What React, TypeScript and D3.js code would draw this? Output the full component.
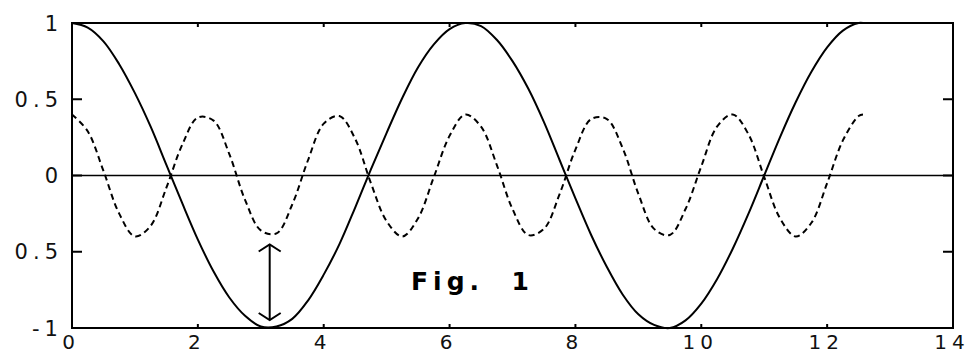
import React, { useRef, useEffect } from "react";
import * as d3 from "d3";

// sample positions along x
const xValues = [
  0, 0.25, 0.5, 0.75, 1, 1.25, 1.5, 1.75, 2, 2.25, 2.5, 2.75, 3, 3.25, 3.5,
  3.75, 4, 4.25, 4.5, 4.75, 5, 5.25, 5.5, 5.75, 6, 6.25, 6.5, 6.75, 7, 7.25,
  7.5, 7.75, 8, 8.25, 8.5, 8.75, 9, 9.25, 9.5, 9.75, 10, 10.25, 10.5, 10.75,
  11, 11.25, 11.5, 11.75, 12, 12.25, 12.5, 12.57,
];

// solid curve
const solidValues = [
  1.0, 0.97, 0.88, 0.73, 0.54, 0.32, 0.07, -0.18, -0.42, -0.63, -0.8, -0.92,
  -0.99, -0.99, -0.94, -0.82, -0.65, -0.45, -0.21, 0.04, 0.28, 0.51, 0.71,
  0.86, 0.96, 1.0, 0.98, 0.89, 0.75, 0.57, 0.35, 0.1, -0.15, -0.39, -0.6,
  -0.78, -0.91, -0.98, -1.0, -0.95, -0.84, -0.68, -0.48, -0.25, 0.0, 0.25,
  0.48, 0.68, 0.84, 0.95, 1.0, 1.0,
];

// dashed curve
const dashedValues = [
  0.4, 0.29, 0.03, -0.25, -0.4, -0.33, -0.08, 0.2, 0.38, 0.36, 0.14, -0.16,
  -0.36, -0.38, -0.19, 0.1, 0.34, 0.39, 0.24, -0.05, -0.3, -0.4, -0.28, -0.01,
  0.26, 0.4, 0.32, 0.07, -0.22, -0.39, -0.35, -0.12, 0.17, 0.37, 0.37, 0.18,
  -0.12, -0.35, -0.39, -0.22, 0.06, 0.32, 0.4, 0.27, -0.01, -0.28, -0.4,
  -0.31, -0.05, 0.23, 0.39, 0.4,
];

const xTicks = [0, 2, 4, 6, 8, 10, 12, 14];
const yTicks = [1, 0.5, 0, -0.5, -1];
const yTickLabels = ["1", "0.5", "0", "-0.5", "-1"];

// double arrow between the two curves at x = pi
const arrowX = 3.1416;
const arrowTop = -0.4;
const arrowBottom = -1;

const figLabel = "Fig.  1";

const App: React.FC = () => {
  const svgRef = useRef<SVGSVGElement | null>(null);

  useEffect(() => {
    const svg = d3.select(svgRef.current);
    svg.selectAll("*").remove();

    const width = 971;
    const height = 355;
    const margin = { top: 23, right: 18, bottom: 27, left: 72 };

    const x = d3
      .scaleLinear()
      .domain([0, 14])
      .range([margin.left, width - margin.right]);
    const y = d3
      .scaleLinear()
      .domain([-1, 1])
      .range([height - margin.bottom, margin.top]);

    const font = "'DejaVu Sans', sans-serif";

    // the original picture is cropped on the left edge
    svg
      .append("clipPath")
      .attr("id", "crop")
      .append("rect")
      .attr("x", 10)
      .attr("y", 0)
      .attr("width", width)
      .attr("height", height);

    // frame
    svg
      .append("rect")
      .attr("x", x(0))
      .attr("y", y(1))
      .attr("width", x(14) - x(0))
      .attr("height", y(-1) - y(1))
      .attr("fill", "none")
      .attr("stroke", "#000")
      .attr("stroke-width", 2);

    // zero line
    svg
      .append("line")
      .attr("x1", x(0))
      .attr("x2", x(14))
      .attr("y1", y(0))
      .attr("y2", y(0))
      .attr("stroke", "#000")
      .attr("stroke-width", 1.5);

    // y ticks, inward on both sides
    const innerY = yTicks.filter((d) => d !== 1 && d !== -1);
    svg
      .selectAll(".ytick-l")
      .data(innerY)
      .enter()
      .append("line")
      .attr("x1", x(0))
      .attr("x2", x(0) + 10)
      .attr("y1", (d) => y(d))
      .attr("y2", (d) => y(d))
      .attr("stroke", "#000")
      .attr("stroke-width", 2);
    svg
      .selectAll(".ytick-r")
      .data(innerY)
      .enter()
      .append("line")
      .attr("x1", x(14))
      .attr("x2", x(14) - 10)
      .attr("y1", (d) => y(d))
      .attr("y2", (d) => y(d))
      .attr("stroke", "#000")
      .attr("stroke-width", 2);

    // x ticks, short and inward top and bottom
    const innerX = xTicks.filter((d) => d !== 0 && d !== 14);
    svg
      .selectAll(".xtick-b")
      .data(innerX)
      .enter()
      .append("line")
      .attr("x1", (d) => x(d))
      .attr("x2", (d) => x(d))
      .attr("y1", y(-1))
      .attr("y2", y(-1) - 4)
      .attr("stroke", "#000")
      .attr("stroke-width", 2);
    svg
      .selectAll(".xtick-t")
      .data(innerX)
      .enter()
      .append("line")
      .attr("x1", (d) => x(d))
      .attr("x2", (d) => x(d))
      .attr("y1", y(1))
      .attr("y2", y(1) + 4)
      .attr("stroke", "#000")
      .attr("stroke-width", 2);

    // tick labels
    svg
      .append("g")
      .attr("clip-path", "url(#crop)")
      .selectAll(".ylabel")
      .data(yTicks)
      .enter()
      .append("text")
      .attr("x", x(0) - 9)
      .attr("y", (d) => y(d))
      .attr("dy", "0.36em")
      .attr("text-anchor", "end")
      .attr("font-family", font)
      .attr("font-size", 21)
      .attr("letter-spacing", 5)
      .attr("fill", "#111")
      .text((d, i) => yTickLabels[i]);

    svg
      .selectAll(".xlabel")
      .data(xTicks)
      .enter()
      .append("text")
      .attr("x", (d) => x(d) - 1)
      .attr("y", y(-1) + 21)
      .attr("text-anchor", "middle")
      .attr("font-family", font)
      .attr("font-size", 20)
      .attr("letter-spacing", 5)
      .attr("fill", "#111")
      .text((d) => String(d));

    // curves
    const pts = (vals: number[]) => xValues.map((xv, i) => [xv, vals[i]] as [number, number]);
    const line = d3
      .line<[number, number]>()
      .x((d) => x(d[0]))
      .y((d) => y(d[1]))
      .curve(d3.curveCatmullRom.alpha(0.5));

    svg
      .append("path")
      .attr("d", line(pts(solidValues)) as string)
      .attr("fill", "none")
      .attr("stroke", "#000")
      .attr("stroke-width", 2);

    svg
      .append("path")
      .attr("d", line(pts(dashedValues)) as string)
      .attr("fill", "none")
      .attr("stroke", "#000")
      .attr("stroke-width", 2)
      .attr("stroke-dasharray", "6,4");

    // double arrow
    const ax = x(arrowX);
    const ay1 = y(arrowTop) + 8;
    const ay2 = y(arrowBottom) - 8;
    const arrow = svg
      .append("g")
      .attr("stroke", "#000")
      .attr("stroke-width", 2)
      .attr("fill", "none");
    arrow.append("line").attr("x1", ax).attr("x2", ax).attr("y1", ay1).attr("y2", ay2);
    arrow
      .append("path")
      .attr("d", `M${ax - 11},${ay1 + 7}L${ax},${ay1}L${ax + 11},${ay1 + 7}`);
    arrow
      .append("path")
      .attr("d", `M${ax - 11},${ay2 - 7}L${ax},${ay2}L${ax + 11},${ay2 - 7}`);

    // figure caption
    svg
      .append("text")
      .attr("x", 411)
      .attr("y", 290)
      .attr("font-family", font)
      .attr("font-weight", "bold")
      .attr("font-size", 25)
      .attr("letter-spacing", 5)
      .style("white-space", "pre")
      .attr("fill", "#000")
      .text(figLabel);
  }, []);

  return (
    <svg
      ref={svgRef}
      width={971}
      height={355}
      style={{ position: "absolute", left: 0, top: 0, background: "#fff" }}
    />
  );
};

export default App;
